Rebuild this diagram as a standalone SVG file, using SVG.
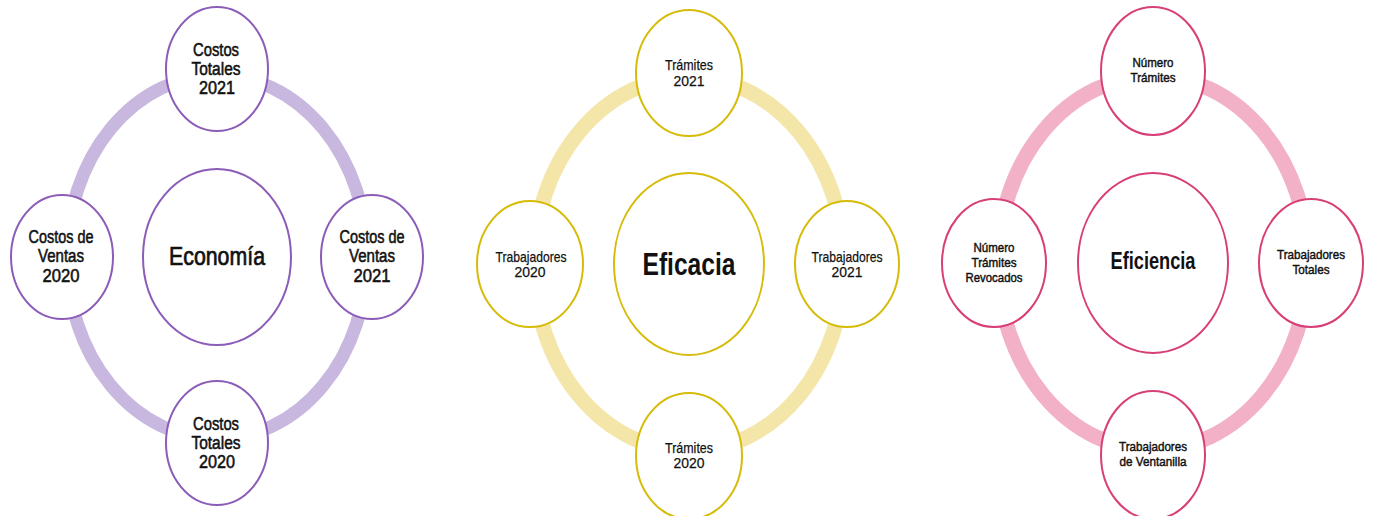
<svg xmlns="http://www.w3.org/2000/svg" width="1374" height="516" viewBox="0 0 1374 516">
<style>
.ring{fill:none}
.r1{stroke:#c8b7de;stroke-width:13}
.r2{stroke:#f4e5a8;stroke-width:15}
.r3{stroke:#f2b1c7;stroke-width:15}
.n1{fill:#fff;stroke:#8b5cb8;stroke-width:2}
.n2{fill:#fff;stroke:#d6bb08;stroke-width:2}
.n3{fill:#fff;stroke:#d83f78;stroke-width:2}
text{font-family:"Liberation Sans",Arial,sans-serif;fill:#111;text-anchor:middle}
.t1{font-size:18px;stroke:#111;stroke-width:0.55}
.t2{font-size:15px;stroke:#111;stroke-width:0.25}
.t3{font-size:13px;stroke:#111;stroke-width:0.45}
.c1{font-size:25px;stroke:#111;stroke-width:0.7}
.c2{font-size:32px;font-weight:bold}
.c3{font-size:24px;font-weight:bold}
</style>
<rect width="1374" height="516" fill="#fff"/>
<g id="connectors">
<ellipse class="ring r1" cx="217" cy="257" rx="150" ry="182"/>
<ellipse class="ring r2" cx="689" cy="264" rx="155" ry="187"/>
<ellipse class="ring r3" cx="1153" cy="263" rx="155" ry="187"/>
</g>
<g id="economia">
<ellipse class="n1" cx="217" cy="257" rx="74" ry="88"/>
<text class="c1" x="217" y="265" textLength="96" lengthAdjust="spacingAndGlyphs">Economía</text>
</g>
<g id="costos-totales-2021">
<ellipse class="n1" cx="217" cy="69" rx="51" ry="62"/>
<text class="t1" x="216" y="56" textLength="46" lengthAdjust="spacingAndGlyphs">Costos</text>
<text class="t1" x="216" y="75" textLength="49" lengthAdjust="spacingAndGlyphs">Totales</text>
<text class="t1" x="217" y="94" textLength="36" lengthAdjust="spacingAndGlyphs">2021</text>
</g>
<g id="costos-ventas-2020">
<ellipse class="n1" cx="62" cy="257" rx="51" ry="62"/>
<text class="t1" x="61" y="243" textLength="65" lengthAdjust="spacingAndGlyphs">Costos de</text>
<text class="t1" x="61" y="262" textLength="46" lengthAdjust="spacingAndGlyphs">Ventas</text>
<text class="t1" x="61" y="282" textLength="37" lengthAdjust="spacingAndGlyphs">2020</text>
</g>
<g id="costos-ventas-2021">
<ellipse class="n1" cx="372" cy="257" rx="51" ry="62"/>
<text class="t1" x="372" y="243" textLength="65" lengthAdjust="spacingAndGlyphs">Costos de</text>
<text class="t1" x="372" y="262" textLength="46" lengthAdjust="spacingAndGlyphs">Ventas</text>
<text class="t1" x="372" y="282" textLength="37" lengthAdjust="spacingAndGlyphs">2021</text>
</g>
<g id="costos-totales-2020">
<ellipse class="n1" cx="217" cy="443" rx="51" ry="62"/>
<text class="t1" x="216" y="430" textLength="46" lengthAdjust="spacingAndGlyphs">Costos</text>
<text class="t1" x="216" y="449" textLength="49" lengthAdjust="spacingAndGlyphs">Totales</text>
<text class="t1" x="217" y="468" textLength="36" lengthAdjust="spacingAndGlyphs">2020</text>
</g>
<g id="eficacia">
<ellipse class="n2" cx="689" cy="264" rx="75" ry="91"/>
<text class="c2" x="689" y="275" textLength="93" lengthAdjust="spacingAndGlyphs">Eficacia</text>
</g>
<g id="tramites-2021">
<ellipse class="n2" cx="689" cy="73" rx="53" ry="63"/>
<text class="t2" x="689" y="70" textLength="48" lengthAdjust="spacingAndGlyphs">Trámites</text>
<text class="t2" x="689" y="86" textLength="31" lengthAdjust="spacingAndGlyphs">2021</text>
</g>
<g id="trabajadores-2020">
<ellipse class="n2" cx="530" cy="264" rx="53" ry="63"/>
<text class="t2" x="531" y="262" textLength="71" lengthAdjust="spacingAndGlyphs">Trabajadores</text>
<text class="t2" x="530" y="277" textLength="31" lengthAdjust="spacingAndGlyphs">2020</text>
</g>
<g id="trabajadores-2021">
<ellipse class="n2" cx="847" cy="264" rx="52" ry="63"/>
<text class="t2" x="847" y="262" textLength="71" lengthAdjust="spacingAndGlyphs">Trabajadores</text>
<text class="t2" x="847" y="277" textLength="31" lengthAdjust="spacingAndGlyphs">2021</text>
</g>
<g id="tramites-2020">
<ellipse class="n2" cx="689" cy="456" rx="53" ry="63"/>
<text class="t2" x="689" y="453" textLength="48" lengthAdjust="spacingAndGlyphs">Trámites</text>
<text class="t2" x="689" y="468" textLength="31" lengthAdjust="spacingAndGlyphs">2020</text>
</g>
<g id="eficiencia">
<ellipse class="n3" cx="1153" cy="263" rx="75" ry="90"/>
<text class="c3" x="1153" y="269" textLength="85" lengthAdjust="spacingAndGlyphs">Eficiencia</text>
</g>
<g id="numero-tramites">
<ellipse class="n3" cx="1153" cy="71" rx="52" ry="64"/>
<text class="t3" x="1153" y="67" textLength="41" lengthAdjust="spacingAndGlyphs">Número</text>
<text class="t3" x="1153" y="82" textLength="45" lengthAdjust="spacingAndGlyphs">Trámites</text>
</g>
<g id="numero-tramites-revocados">
<ellipse class="n3" cx="994" cy="263" rx="52" ry="64"/>
<text class="t3" x="994" y="252" textLength="41" lengthAdjust="spacingAndGlyphs">Número</text>
<text class="t3" x="994" y="267" textLength="45" lengthAdjust="spacingAndGlyphs">Trámites</text>
<text class="t3" x="994" y="282" textLength="57" lengthAdjust="spacingAndGlyphs">Revocados</text>
</g>
<g id="trabajadores-totales">
<ellipse class="n3" cx="1311" cy="263" rx="52" ry="64"/>
<text class="t3" x="1311" y="259" textLength="68" lengthAdjust="spacingAndGlyphs">Trabajadores</text>
<text class="t3" x="1311" y="274" textLength="37" lengthAdjust="spacingAndGlyphs">Totales</text>
</g>
<g id="trabajadores-ventanilla">
<ellipse class="n3" cx="1153" cy="455" rx="52" ry="64"/>
<text class="t3" x="1153" y="451" textLength="68" lengthAdjust="spacingAndGlyphs">Trabajadores</text>
<text class="t3" x="1153" y="466" textLength="67" lengthAdjust="spacingAndGlyphs">de Ventanilla</text>
</g>
</svg>
